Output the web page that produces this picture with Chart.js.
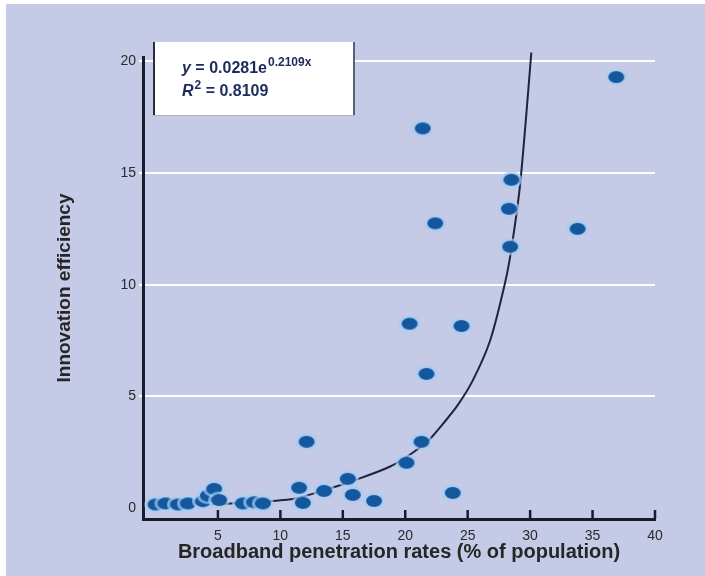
<!DOCTYPE html>
<html>
<head>
<meta charset="utf-8">
<script src="https://cdn.jsdelivr.net/npm/chart.js@4.4.1/dist/chart.umd.min.js"></script>
<style>
  html, body { margin: 0; padding: 0; background: #c5cbe6; overflow: hidden; }
  #caixa {
    width: 705px; height: 576px; position: relative;
    background:
      linear-gradient(#fff, #fff) top left / 100% 4px no-repeat,
      linear-gradient(#fff, #fff) top left / 6px 100% no-repeat,
      #c5cbe6;
  }
  canvas { display: block; }
</style>
</head>
<body>
<div id="caixa"><canvas id="grafico" width="705" height="576"></canvas></div>
<script>
// ==========================================
// DADOS
// ==========================================
const penetracao = [0.0, 0.8, 1.8, 2.6, 3.8, 4.2, 4.7, 5.1, 7.0, 7.9, 8.6,
    11.5, 11.8, 12.1, 13.5, 15.4, 15.8, 17.5, 20.1, 21.3, 21.7, 20.35, 24.5, 23.8,
    21.4, 22.4, 28.4, 28.3, 28.5, 33.8, 36.9];
const eficiencia = [0.15, 0.2, 0.15, 0.2, 0.3, 0.55, 0.85, 0.35, 0.2, 0.25, 0.2,
    0.9, 0.22, 2.96, 0.76, 1.3, 0.58, 0.31, 2.02, 2.96, 6.0, 8.25, 8.15, 0.67,
    17.0, 12.75, 11.7, 13.4, 14.7, 12.5, 19.3];

// curva de tendência exponencial
const tendenciaX = [0, 6, 11, 13, 16, 18.75, 20.6, 22, 23, 24.2, 25.4, 26.8, 28, 28.5, 29.2, 30.1];
const tendenciaY = [0.15, 0.2, 0.4, 0.7, 1.25, 1.84, 2.47, 3.1, 3.75, 4.6, 5.7, 7.5, 10.1, 11.6, 14.5, 20.4];

const ticksX = [5, 10, 15, 20, 25, 30, 35, 40];
const ticksY = [0, 5, 10, 15, 20];

const tituloX = "Broadband penetration rates (% of population)";
const tituloY = "Innovation efficiency";
const equacao = { base: "y = 0.0281e", expoente: "0.2109x", r2: "0.8109" };

const fonte = '"Liberation Sans", Arial, sans-serif';

// ==========================================
// ESTILO DOS PONTOS (elipse azul com halo)
// ==========================================
function criarPonto() {
    const c = document.createElement('canvas');
    c.width = 24; c.height = 20;
    const g = c.getContext('2d');
    g.fillStyle = 'rgba(165, 205, 245, 0.7)';
    g.beginPath(); g.ellipse(12, 10, 11, 8.5, 0, 0, Math.PI * 2); g.fill();
    g.fillStyle = '#15579d';
    g.beginPath(); g.ellipse(12, 10, 8, 6, 0, 0, Math.PI * 2); g.fill();
    return c;
}

// marcas do eixo X voltadas para cima
const marcasX = {
    id: 'marcasX',
    afterDraw(chart) {
        const ctx = chart.ctx;
        const sx = chart.scales.x;
        const base = chart.chartArea.bottom;
        ctx.save();
        ctx.strokeStyle = '#1b1b2b';
        ctx.lineWidth = 2.5;
        ticksX.forEach(v => {
            const px = sx.getPixelForValue(v);
            ctx.beginPath(); ctx.moveTo(px, base); ctx.lineTo(px, base - 9); ctx.stroke();
        });
        ctx.restore();
    }
};

// caixa branca com a equação
const caixaEquacao = {
    id: 'caixaEquacao',
    afterDraw(chart) {
        const ctx = chart.ctx;
        const a = chart.chartArea;
        const x0 = a.left + 10, y0 = a.top - 15, w = 202, h = 74;
        ctx.save();
        ctx.fillStyle = '#ffffff';
        ctx.fillRect(x0, y0, w, h);
        ctx.fillStyle = '#2a2d3e';
        ctx.fillRect(x0, y0, 2, h);
        ctx.fillStyle = '#5a6078';
        ctx.fillRect(x0 + w - 2, y0, 2, h);
        ctx.fillStyle = '#aab0c8';
        ctx.fillRect(x0, y0 + h - 1, w, 1);

        ctx.fillStyle = '#1d2a5c';
        ctx.textBaseline = 'alphabetic';
        let tx = x0 + 29, ty = y0 + 31;
        ctx.font = 'italic bold 16px ' + fonte;
        ctx.fillText('y', tx, ty);
        tx += ctx.measureText('y').width;
        ctx.font = 'bold 16px ' + fonte;
        const resto = equacao.base.slice(1);
        ctx.fillText(resto, tx, ty);
        tx += ctx.measureText(resto).width + 1;
        ctx.font = 'bold 12px ' + fonte;
        ctx.fillText(equacao.expoente, tx, ty - 7);

        tx = x0 + 29; ty = y0 + 54;
        ctx.font = 'italic bold 16px ' + fonte;
        ctx.fillText('R', tx, ty);
        tx += ctx.measureText('R').width + 1;
        ctx.font = 'bold 12px ' + fonte;
        ctx.fillText('2', tx, ty - 7);
        tx += ctx.measureText('2').width;
        ctx.font = 'bold 16px ' + fonte;
        ctx.fillText(' = ' + equacao.r2, tx, ty);
        ctx.restore();
    }
};

// ==========================================
// GRÁFICO
// ==========================================
const ctx = document.getElementById('grafico').getContext('2d');
const pontos = penetracao.map((x, i) => ({ x: x, y: eficiencia[i] }));
const curva = tendenciaX.map((x, i) => ({ x: x, y: tendenciaY[i] }));

new Chart(ctx, {
    type: 'scatter',
    data: {
        datasets: [
            {
                label: 'Tendência',
                data: curva,
                showLine: true,
                borderColor: '#1f2340',
                borderWidth: 2,
                pointRadius: 0,
                tension: 0.3,
                clip: false,
                order: 2
            },
            {
                label: 'Países',
                data: pontos,
                pointStyle: criarPonto(),
                pointRadius: 8,
                order: 1
            }
        ]
    },
    options: {
        responsive: false,
        animation: false,
        layout: { padding: { top: 57, right: 50, left: 0, bottom: 0 } },
        plugins: { legend: { display: false }, tooltip: { enabled: false } },
        scales: {
            x: {
                type: 'linear',
                min: -1, max: 40,
                afterBuildTicks: s => { s.ticks = ticksX.map(v => ({ value: v })); },
                afterFit: s => { s.height = 57; },
                grid: { display: false, drawTicks: false },
                border: { display: true, color: '#1b1b2b', width: 3 },
                ticks: {
                    padding: 9,
                    color: '#2b2b2b',
                    font: { family: fonte, size: 14 },
                    maxRotation: 0
                },
                title: {
                    display: true,
                    text: tituloX,
                    color: '#262626',
                    font: { family: fonte, size: 20, weight: 'bold' },
                    padding: { top: 0, bottom: 12 }
                }
            },
            y: {
                type: 'linear',
                min: -0.5, max: 20.2,
                afterBuildTicks: s => { s.ticks = ticksY.map(v => ({ value: v })); },
                afterFit: s => { s.width = 143; },
                grid: {
                    color: c => (c.tick && c.tick.value === 0) ? 'rgba(0,0,0,0)' : '#ffffff',
                    lineWidth: 2,
                    drawTicks: true,
                    tickLength: 4
                },
                border: { display: true, color: '#1b1b2b', width: 3 },
                ticks: {
                    padding: 3,
                    color: '#2b2b2b',
                    font: { family: fonte, size: 14 }
                },
                title: {
                    display: true,
                    text: tituloY,
                    color: '#262626',
                    font: { family: fonte, size: 19, weight: 'bold' },
                    padding: { top: 53, bottom: 0 }
                }
            }
        }
    },
    plugins: [marcasX, caixaEquacao]
});
</script>
</body>
</html>
